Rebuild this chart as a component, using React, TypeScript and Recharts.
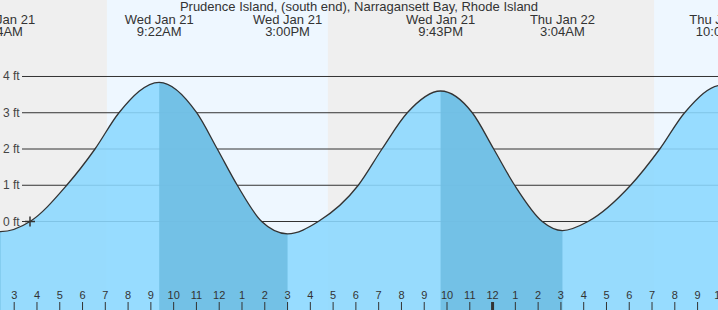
import { ComposedChart, Area, Line, XAxis, YAxis, ReferenceArea, Scatter } from 'recharts'

// hours after midnight, Wed Jan 21
const hlHours = [-3.8, 2.4, 9.367, 15.0, 21.717, 27.067, 34.067, 40.3]
const hlFeet = [3.7, -0.28, 3.84, -0.34, 3.6, -0.25, 3.76, -0.3]
const hlDays = ['Tue Jan 20', 'Wed Jan 21', 'Wed Jan 21', 'Wed Jan 21', 'Wed Jan 21', 'Thu Jan 22', 'Thu Jan 22', 'Thu Jan 22']
const hlTimes = ['8:12PM', '2:24AM', '9:22AM', '3:00PM', '9:43PM', '3:04AM', '10:04AM', '4:18PM']

// where the curve crosses the 0..3 ft lines
const crossHours = [3.694, 5.305, 6.547, 7.6, 11.011, 11.916, 12.794, 13.865, 16.35, 18.105, 19.146, 20.256, 23.11, 24.05, 24.97, 26.18, 28.19, 30.06, 31.34, 32.43]
const crossFeet = [0, 1, 2, 3, 3, 2, 1, 0, 0, 1, 2, 3, 3, 2, 1, 0, 0, 1, 2, 3]

const sunrise = [7.07, 31.09]
const sunset = [16.77, 40.8]

const nowHour = 3.694
const nowFeet = 0

const hourTicks = Array.from({ length: 32 }, (_, i) => i + 3)
const feetTicks = [0, 1, 2, 3, 4]

const W = 718
const H = 310
const X_DOMAIN = [2.377, 33.896]
const Y_DOMAIN = [-2.441, 6.11]
const FONT = '"Liberation Sans", Arial, sans-serif'

const series = [
  ...hlHours.map((t, i) => ({ t, ft: hlFeet[i] })),
  ...crossHours.map((t, i) => ({ t, ft: crossFeet[i] })),
].sort((a, b) => a.t - b.t)

const extremes = hlHours.map((t, i) => ({ t, ft: hlFeet[i], day: hlDays[i], time: hlTimes[i] }))

// falling tide: from each high to the following low
const falls = extremes
  .map((p, i) => ({ p, q: extremes[i + 1] }))
  .filter(({ p, q }) => q && p.ft > q.ft)
  .map(({ p, q }) => series.filter((d) => d.t >= p.t && d.t <= q.t))

// monotone cubic with flat ends, so partial segments match the full curve
class TideCurve {
  ctx: any
  line: number
  xs: number[] = []
  ys: number[] = []
  constructor(ctx: any) {
    this.ctx = ctx
    this.line = NaN
  }
  areaStart() { this.line = 0 }
  areaEnd() { this.line = NaN }
  lineStart() { this.xs = []; this.ys = [] }
  point(x: number, y: number) { this.xs.push(+x); this.ys.push(+y) }
  lineEnd() {
    const { xs, ys, ctx } = this
    const n = xs.length
    if (n > 0) {
      if (this.line) ctx.lineTo(xs[0], ys[0])
      else ctx.moveTo(xs[0], ys[0])
      const m = xs.map(() => 0)
      for (let i = 1; i < n - 1; i++) {
        const h0 = xs[i] - xs[i - 1]
        const h1 = xs[i + 1] - xs[i]
        const s0 = (ys[i] - ys[i - 1]) / h0
        const s1 = (ys[i + 1] - ys[i]) / h1
        if (s0 * s1 > 0) {
          const p = (s0 * h1 + s1 * h0) / (h0 + h1)
          m[i] = Math.sign(s0) * Math.min(2 * Math.abs(s0), 2 * Math.abs(s1), Math.abs(p))
        }
      }
      for (let i = 1; i < n; i++) {
        const d = (xs[i] - xs[i - 1]) / 3
        ctx.bezierCurveTo(xs[i - 1] + d, ys[i - 1] + d * m[i - 1], xs[i] - d, ys[i] - d * m[i], xs[i], ys[i])
      }
    }
    if (this.line || (this.line !== 0 && n === 1)) ctx.closePath()
    this.line = 1 - this.line
  }
}
const tideCurve: any = (ctx: any) => new TideCurve(ctx)

const HourTick = (props: any) => {
  const { x, payload } = props
  const h = payload.value
  const label = h % 12 === 0 ? 12 : h % 12
  return (
    <g>
      <line x1={x} x2={x} y1={302} y2={310} stroke="#333" strokeWidth={h % 24 === 0 ? 3 : 1} />
      <text x={x} y={299} textAnchor="middle" fontSize={11} fill="#333" fontFamily={FONT}>
        {label}
      </text>
    </g>
  )
}

const FeetTick = (props: any) => {
  const { y, payload } = props
  return (
    <g>
      <line x1={22} x2={W} y1={y} y2={y} stroke="#333" strokeWidth={1} />
      <text x={3} y={y + 4} fontSize={12} fill="#444" fontFamily={FONT}>
        {payload.value} ft
      </text>
    </g>
  )
}

const ExtremeLabel = (props: any) => {
  const { cx, payload } = props
  return (
    <g>
      <text x={cx} y={24} textAnchor="middle" fontSize={13} fill="#333" fontFamily={FONT}>{payload.day}</text>
      <text x={cx} y={36} textAnchor="middle" fontSize={13} fill="#333" fontFamily={FONT}>{payload.time}</text>
    </g>
  )
}

const NowMark = (props: any) => {
  const { cx, cy } = props
  return (
    <g stroke="#333" strokeWidth={1.5}>
      <line x1={cx - 5} x2={cx + 5} y1={cy} y2={cy} />
      <line x1={cx} x2={cx} y1={cy - 5} y2={cy + 5} />
    </g>
  )
}

const layer: any = { position: 'absolute', left: 0, top: 0 }
const noMargin = { top: 0, right: 0, bottom: 0, left: 0 }

export default function App() {
  return (
    <div style={{ position: 'fixed', left: 0, top: 0, width: W, height: H, background: '#efefef', overflow: 'hidden' }}>
      <div style={layer}>
        <ComposedChart width={W} height={H} data={series} margin={noMargin}>
          <XAxis dataKey="t" type="number" domain={X_DOMAIN} allowDataOverflow hide />
          <YAxis type="number" domain={Y_DOMAIN} allowDataOverflow mirror width={30} ticks={feetTicks} interval={0}
            axisLine={false} tickLine={false} tick={<FeetTick />} />
          {sunrise.map((s, i) => (
            <ReferenceArea key={i} x1={s} x2={sunset[i]} fill="#eef7ff" fillOpacity={1} stroke="none" ifOverflow="hidden" />
          ))}
          <Line dataKey="ft" stroke="none" dot={false} activeDot={false} isAnimationActive={false} />
        </ComposedChart>
      </div>
      <div style={layer}>
        <ComposedChart width={W} height={H} data={series} margin={noMargin}>
          <XAxis dataKey="t" type="number" domain={X_DOMAIN} allowDataOverflow mirror height={30} ticks={hourTicks}
            interval={0} axisLine={false} tickLine={false} tick={<HourTick />} />
          <YAxis type="number" domain={Y_DOMAIN} allowDataOverflow hide />
          <Area dataKey="ft" type={tideCurve} fill="#8bd8ff" fillOpacity={0.88} stroke="none"
            baseValue="dataMin" dot={false} activeDot={false} isAnimationActive={false} />
          {falls.map((seg, i) => (
            <Area key={i} data={seg} dataKey="ft" type={tideCurve} fill="#6ebde3" fillOpacity={0.88}
              stroke="none" baseValue="dataMin" dot={false} activeDot={false} isAnimationActive={false} />
          ))}
          <Line dataKey="ft" type={tideCurve} stroke="#333" strokeWidth={1.3} dot={false} activeDot={false}
            isAnimationActive={false} />
          <Scatter data={extremes} dataKey="ft" shape={<ExtremeLabel />} isAnimationActive={false} />
          <Scatter data={[{ t: nowHour, ft: nowFeet }]} dataKey="ft" shape={<NowMark />} isAnimationActive={false} />
        </ComposedChart>
      </div>
      <div style={{ position: 'absolute', left: 0, top: 0, width: W, textAlign: 'center', fontFamily: FONT,
        fontSize: 13, lineHeight: '14px', color: '#333' }}>
        Prudence Island, (south end), Narragansett Bay, Rhode Island
      </div>
    </div>
  )
}
